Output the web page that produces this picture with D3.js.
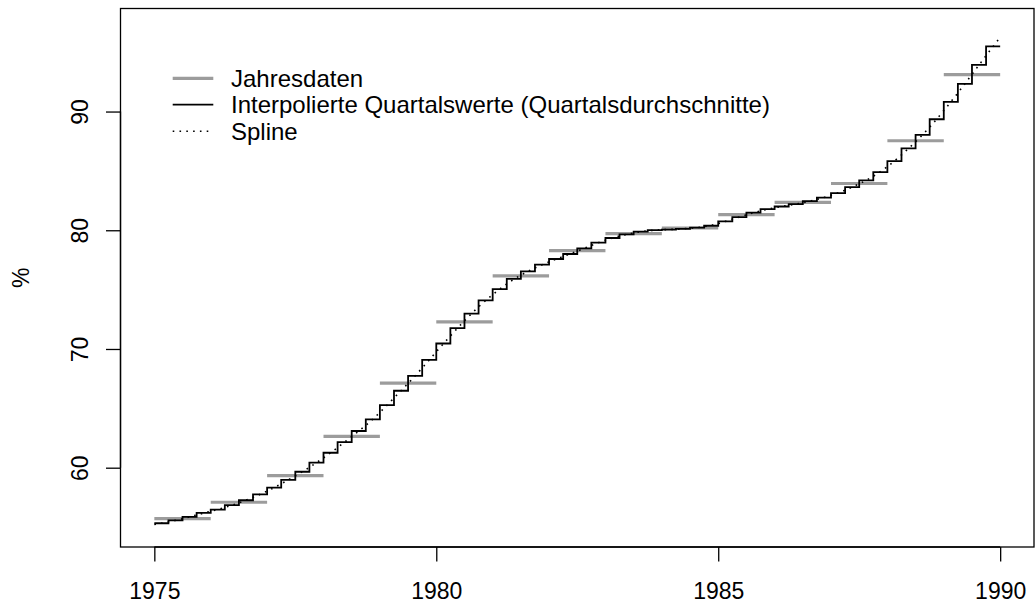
<!DOCTYPE html>
<html>
<head>
<meta charset="utf-8">
<script src="https://cdn.jsdelivr.net/npm/d3@7"></script>
<style>
  html, body { margin: 0; padding: 0; background: #fff; }
  svg { display: block; font-family: "Liberation Sans", Arial, Helvetica, sans-serif; }
</style>
</head>
<body>
<svg id="chart" width="1035" height="608"></svg>
<script>
// ---- data ----
const years = [1975,1976,1977,1978,1979,1980,1981,1982,1983,1984,1985,1986,1987,1988,1989];
const annualValues = [55.71,57.09,59.33,62.64,67.12,72.28,76.15,78.28,79.71,80.19,81.31,82.35,83.94,87.54,93.11];
const quarterlyValues = [
  55.32,55.57,55.85,56.19,
  56.47,56.84,57.26,57.76,
  58.32,58.97,59.66,60.42,
  61.26,62.16,63.09,64.07,
  65.27,66.48,67.74,69.08,
  70.46,71.75,72.98,74.10,
  75.05,75.90,76.54,77.10,
  77.58,78.00,78.48,78.96,
  79.35,79.66,79.88,80.02,
  80.06,80.12,80.22,80.38,
  80.75,81.11,81.48,81.78,
  82.00,82.20,82.45,82.75,
  83.13,83.63,84.20,84.90,
  85.82,86.89,88.04,89.35,
  90.82,92.33,93.93,95.49
];
// spline read at quarter boundaries 1975.00 ... 1990.00
const splineValues = [
  55.22,55.44,55.70,56.02,
  56.33,56.65,57.04,57.50,
  58.03,58.64,59.31,60.03,
  60.83,61.70,62.62,63.57,
  64.66,65.87,67.10,68.40,
  69.76,71.10,72.37,73.55,
  74.58,75.48,76.22,76.82,
  77.34,77.79,78.24,78.72,
  79.16,79.51,79.77,79.95,
  80.04,80.09,80.17,80.30,
  80.56,80.93,81.30,81.63,
  81.89,82.10,82.32,82.60,
  82.94,83.38,83.91,84.55,
  85.36,86.35,87.46,88.69,
  90.08,91.57,93.13,94.71,
  96.25
];
const xTicks = [1975,1980,1985,1990];
const yTicks = [60,70,80,90];
const xDomain = [1974.4, 1990.6];
const yDomain = [53.32, 98.68];
const legendLabels = ["Jahresdaten", "Interpolierte Quartalswerte (Quartalsdurchschnitte)", "Spline"];
const yLabel = "%";

// ---- layout ----
const box = {left: 120.5, right: 1034, top: 8.5, bottom: 547};
const fontSize = 23;
const legendFontSize = 24;
const svg = d3.select("#chart");
const x = d3.scaleLinear().domain(xDomain).range([box.left, box.right]);
const y = d3.scaleLinear().domain(yDomain).range([box.bottom, box.top]);

// annual segments
svg.append("g").selectAll("line").data(years).join("line")
  .attr("x1", (d) => x(d)).attr("x2", (d) => x(d + 1))
  .attr("y1", (d, i) => y(annualValues[i])).attr("y2", (d, i) => y(annualValues[i]))
  .attr("stroke", "#9c9c9c").attr("stroke-width", 3.2);

// quarterly step line
const qPts = quarterlyValues.map((v, i) => [years[0] + i / 4, v]);
qPts.push([years[0] + quarterlyValues.length / 4, quarterlyValues[quarterlyValues.length - 1]]);
svg.append("path").datum(qPts)
  .attr("d", d3.line().x((d) => x(d[0])).y((d) => y(d[1])).curve(d3.curveStepAfter))
  .attr("fill", "none").attr("stroke", "#000").attr("stroke-width", 1.8);

// spline
const sPts = splineValues.map((v, i) => [years[0] + i / 4, v]);
svg.append("path").datum(sPts)
  .attr("d", d3.line().x((d) => x(d[0])).y((d) => y(d[1])).curve(d3.curveNatural))
  .attr("fill", "none").attr("stroke", "#000").attr("stroke-width", 1.6)
  .attr("stroke-dasharray", "1.6,5.2");

// box
svg.append("rect").attr("x", box.left).attr("y", box.top)
  .attr("width", box.right - box.left).attr("height", box.bottom - box.top)
  .attr("fill", "none").attr("stroke", "#000").attr("stroke-width", 1.3);

// x axis
const xAxis = svg.append("g").attr("transform", `translate(0,${box.bottom})`)
  .call(d3.axisBottom(x).tickValues(xTicks).tickFormat(d3.format("d")).tickSize(14.5).tickPadding(21));
xAxis.select(".domain").attr("d", `M${x(xTicks[0])},0H${x(xTicks[xTicks.length-1])}`).attr("stroke-width", 1.3);
xAxis.selectAll(".tick line").attr("stroke-width", 1.3);
xAxis.selectAll("text").attr("font-size", fontSize).attr("font-family", null).attr("fill", "#000");

// y axis
const yAxis = svg.append("g").attr("transform", `translate(${box.left},0)`)
  .call(d3.axisLeft(y).tickValues(yTicks).tickSize(14.5).tickPadding(0));
yAxis.select(".domain").attr("d", `M0,${y(yTicks[0])}V${y(yTicks[yTicks.length-1])}`).attr("stroke-width", 1.3);
yAxis.selectAll(".tick line").attr("stroke-width", 1.3);
yAxis.selectAll("text")
  .attr("font-size", fontSize).attr("font-family", null).attr("fill", "#000")
  .attr("x", null).attr("dy", null)
  .attr("text-anchor", "middle")
  .attr("transform", "translate(-33,0) rotate(-90)");

// y label
svg.append("text").attr("transform", `translate(29,${(box.top + box.bottom) / 2}) rotate(-90)`)
  .attr("text-anchor", "middle").attr("font-size", fontSize).text(yLabel);

// legend
const legY = [78.3, 104.7, 131.2];
const leg = svg.append("g");
const legStyles = [
  {stroke: "#9c9c9c", w: 3.2, dash: null},
  {stroke: "#000", w: 1.8, dash: null},
  {stroke: "#000", w: 1.6, dash: "1.6,5.2"}
];
legendLabels.forEach((lab, i) => {
  leg.append("line").attr("x1", 172.7).attr("x2", 213.3).attr("y1", legY[i]).attr("y2", legY[i])
    .attr("stroke", legStyles[i].stroke).attr("stroke-width", legStyles[i].w)
    .attr("stroke-dasharray", legStyles[i].dash);
  leg.append("text").attr("x", 231).attr("y", legY[i]).attr("dy", "0.36em")
    .attr("font-size", legendFontSize).text(lab);
});
</script>
</body>
</html>
